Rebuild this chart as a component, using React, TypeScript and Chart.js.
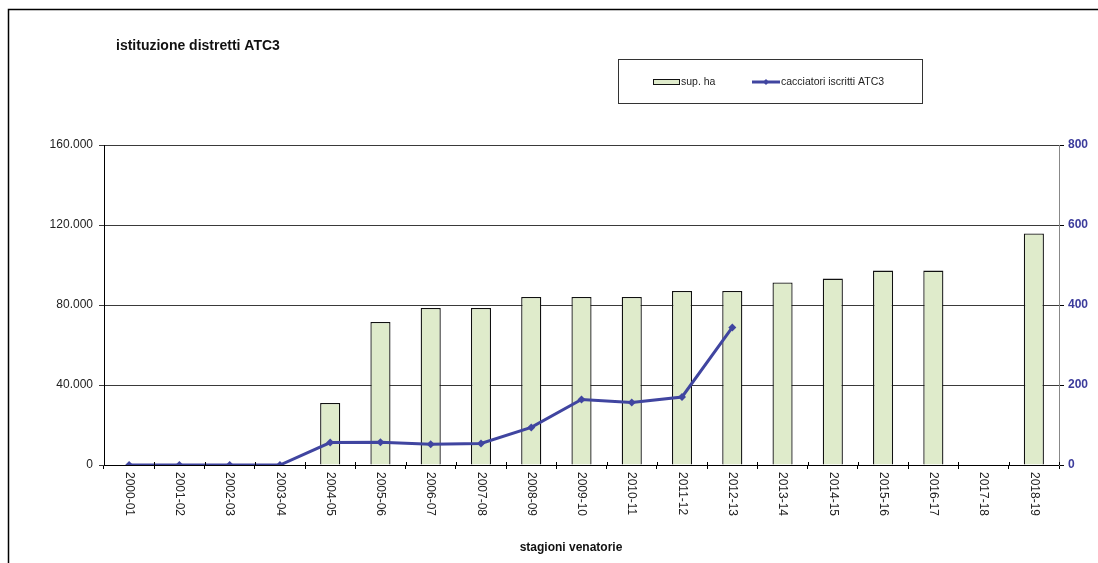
import React, { useEffect, useRef } from "react";
import { Chart, registerables } from "chart.js";

Chart.register(...registerables);

const chartTitle = "istituzione distretti ATC3";
const xAxisTitle = "stagioni venatorie";
const categories = [
  "2000-01", "2001-02", "2002-03", "2003-04", "2004-05", "2005-06", "2006-07",
  "2007-08", "2008-09", "2009-10", "2010-11", "2011-12", "2012-13", "2013-14",
  "2014-15", "2015-16", "2016-17", "2017-18", "2018-19",
];
const barLabel = "sup. ha";
const supHa = [
  null, null, null, null, 31000, 71500, 78500, 78500, 84000, 84000, 84000,
  87000, 87000, 91300, 93200, 97200, 97200, null, 115800,
];
const lineLabel = "cacciatori iscritti ATC3";
const cacciatori = [
  0, 0, 0, 0, 56, 57, 52, 54, 94, 164, 156, 170, 344,
  null, null, null, null, null, null,
];
const leftTicks = { min: 0, max: 160000, step: 40000 };
const rightTicks = { min: 0, max: 800, step: 200 };

const FONT = "'Liberation Sans', Arial, sans-serif";
const BAR_FILL = "#DFEBCB";
const BAR_BORDER = "#111";
const LINE_COLOR = "#4045A0";

const fmtIt = (v: number) =>
  String(Math.round(v)).replace(/\B(?=(\d{3})+(?!\d))/g, ".");

const decorPlugin = {
  id: "decor",
  beforeDraw(chart: any) {
    const ctx = chart.ctx;
    ctx.save();
    ctx.fillStyle = "#fff";
    ctx.fillRect(0, 0, chart.width, chart.height);
    ctx.strokeStyle = "#000";
    ctx.lineWidth = 1.5;
    ctx.beginPath();
    ctx.moveTo(8.5, chart.height + 5);
    ctx.lineTo(8.5, 9.5);
    ctx.lineTo(chart.width + 5, 9.5);
    ctx.stroke();
    ctx.restore();
  },
  afterDraw(chart: any) {
    const ctx = chart.ctx;
    const area = chart.chartArea;
    const xs = chart.scales.x;
    ctx.save();
    // title
    ctx.fillStyle = "#111";
    ctx.font = `bold 14px ${FONT}`;
    ctx.textAlign = "left";
    ctx.textBaseline = "middle";
    ctx.fillText(chartTitle, 116, 46);

    // legend box
    ctx.strokeStyle = "#333";
    ctx.lineWidth = 1;
    ctx.strokeRect(618.5, 59.5, 304, 44);
    ctx.font = `10.5px ${FONT}`;
    ctx.fillStyle = BAR_FILL;
    ctx.fillRect(653.5, 79.5, 26, 5);
    ctx.strokeStyle = BAR_BORDER;
    ctx.strokeRect(653.5, 79.5, 26, 5);
    ctx.fillStyle = "#222";
    ctx.fillText(barLabel, 681, 82.5);
    ctx.strokeStyle = LINE_COLOR;
    ctx.lineWidth = 3;
    ctx.beginPath();
    ctx.moveTo(752, 82);
    ctx.lineTo(780, 82);
    ctx.stroke();
    ctx.fillStyle = LINE_COLOR;
    ctx.beginPath();
    ctx.moveTo(766, 79);
    ctx.lineTo(769, 82);
    ctx.lineTo(766, 85);
    ctx.lineTo(763, 82);
    ctx.closePath();
    ctx.fill();
    ctx.fillStyle = "#222";
    ctx.fillText(lineLabel, 781, 82.5);

    // x tick marks crossing the axis slightly above
    ctx.strokeStyle = "#000";
    ctx.lineWidth = 1;
    for (let i = 0; i <= categories.length; i++) {
      const x = Math.round(xs.getPixelForValue(i - 0.5)) + 0.5;
      ctx.beginPath();
      ctx.moveTo(x, area.bottom - 3);
      ctx.lineTo(x, area.bottom);
      ctx.stroke();
    }

    // x tick labels, rotated clockwise
    ctx.font = `12px ${FONT}`;
    ctx.fillStyle = "#222";
    categories.forEach((c, i) => {
      const x = xs.getPixelForValue(i);
      ctx.save();
      ctx.translate(x, area.bottom + 7);
      ctx.rotate(Math.PI / 2);
      ctx.textAlign = "left";
      ctx.textBaseline = "middle";
      ctx.fillText(c, 0, 0);
      ctx.restore();
    });

    // x axis title
    ctx.font = `bold 12px ${FONT}`;
    ctx.fillStyle = "#111";
    ctx.textAlign = "center";
    ctx.textBaseline = "middle";
    ctx.fillText(xAxisTitle, 571, 548);
    ctx.restore();
  },
};

export default function App() {
  const ref = useRef<HTMLCanvasElement | null>(null);
  useEffect(() => {
    if (!ref.current) return;
    const chart = new Chart(ref.current, {
      type: "bar",
      data: {
        labels: categories,
        datasets: [
          {
            type: "line",
            label: lineLabel,
            data: cacciatori as any,
            yAxisID: "y1",
            borderColor: LINE_COLOR,
            backgroundColor: LINE_COLOR,
            borderWidth: 3,
            pointStyle: "rectRot",
            pointRadius: 4,
            pointBackgroundColor: LINE_COLOR,
            pointBorderColor: LINE_COLOR,
            pointBorderWidth: 0,
            tension: 0,
            spanGaps: false,
            order: 0,
          } as any,
          {
            type: "bar",
            label: barLabel,
            data: supHa as any,
            yAxisID: "y",
            backgroundColor: BAR_FILL,
            borderColor: BAR_BORDER,
            borderWidth: 1.3,
            barPercentage: 0.4,
            categoryPercentage: 1,
            order: 1,
          } as any,
        ],
      },
      options: {
        responsive: false,
        animation: false,
        layout: { padding: { top: 145, left: 0, right: 0, bottom: 0 } },
        plugins: {
          legend: { display: false },
          title: { display: false },
          tooltip: { enabled: false },
        },
        scales: {
          x: {
            type: "category",
            offset: true,
            grid: {
              offset: true,
              drawOnChartArea: false,
              drawTicks: true,
              tickLength: 4,
              color: "#000",
            },
            border: { color: "#000", width: 1 },
            ticks: { display: false },
            afterFit: (s: any) => {
              s.height = 98;
            },
          },
          y: {
            position: "left",
            min: leftTicks.min,
            max: leftTicks.max,
            grid: { color: "#3a3a3a", tickLength: 5, lineWidth: 1 },
            border: { color: "#000", width: 1 },
            ticks: {
              stepSize: leftTicks.step,
              padding: 6,
              color: "#222",
              font: { family: FONT, size: 12 },
              callback: (v: any) => fmtIt(Number(v)),
            },
            afterFit: (s: any) => {
              s.width = 104;
            },
          },
          y1: {
            position: "right",
            min: rightTicks.min,
            max: rightTicks.max,
            grid: { drawOnChartArea: false, color: "#000", tickLength: 5 },
            border: { color: "#888", width: 1 },
            ticks: {
              stepSize: rightTicks.step,
              padding: 4,
              color: "#3c3c9c",
              font: { family: FONT, size: 12, weight: "bold" },
            },
            afterFit: (s: any) => {
              s.width = 39;
            },
          },
        },
      },
      plugins: [decorPlugin],
    });
    return () => chart.destroy();
  }, []);
  return (
    <div style={{ position: "fixed", left: 0, top: 0, width: 1098, height: 563 }}>
      <canvas ref={ref} width={1098} height={563} style={{ display: "block" }} />
    </div>
  );
}
